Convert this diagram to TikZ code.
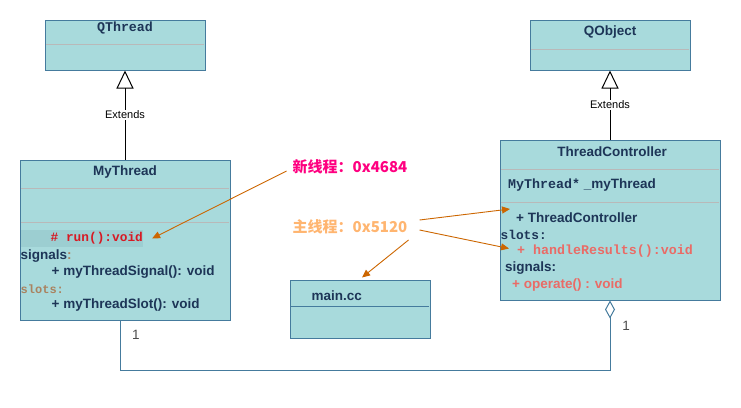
\documentclass[tikz,border=0pt]{standalone}
\usepackage{fontspec}
\setmainfont{Liberation Sans}
\newfontfamily\monofnt{Liberation Mono}
\newfontfamily\cjk{Noto Sans CJK SC}
\usetikzlibrary{arrows.meta}
\definecolor{boxfill}{RGB}{168,218,220}
\definecolor{boxline}{RGB}{69,123,157}
\definecolor{txtblue}{RGB}{29,53,87}
\definecolor{divgray}{RGB}{185,185,185}
\definecolor{rowhl}{RGB}{156,206,209}
\definecolor{runred}{RGB}{215,25,35}
\definecolor{salmon}{RGB}{234,107,102}
\definecolor{slotbrown}{RGB}{170,130,95}
\definecolor{notearrow}{RGB}{204,102,0}
\definecolor{newthread}{RGB}{255,0,128}
\definecolor{mainthread}{RGB}{255,181,112}

\begin{document}
\begin{tikzpicture}[x=1pt,y=-1pt,
  umlbox/.style={draw=boxline,fill=boxfill,line width=1pt,inner sep=0pt},
  divline/.style={divgray,line width=1pt},
  member/.style={anchor=west,inner sep=0pt,text=txtblue,font=\fontsize{13.5}{15}\selectfont\bfseries},
  monomember/.style={anchor=west,inner sep=0pt,text=txtblue,font=\fontsize{12.8}{14}\monofnt\bfseries},
  extarrow/.style={-{Triangle[open,length=18pt,width=17pt]},line width=1pt,black},
  extlabel/.style={fill=white,inner sep=1pt,font=\fontsize{11}{13}\selectfont},
  notearr/.style={-{Triangle[length=8pt,width=7pt]},notearrow,line width=0.9pt},
  mult/.style={inner sep=0pt,text=black!70,font=\fontsize{13.5}{15}\selectfont}]
\useasboundingbox (0,0) rectangle (741,407);
%.............................
\node[umlbox,minimum width=160pt,minimum height=50pt] (qthread) at (125,45) {};
\node[monomember,anchor=center,font=\fontsize{13.3}{15}\monofnt\bfseries] (qthreadname) at (125,28) {QThread};
\draw[divline] (46,44) -- (204,44);
%.............................
\node[umlbox,minimum width=160pt,minimum height=50pt] (qobject) at (610,45) {};
\node[member,anchor=center] (qobjectname) at (610,32.5) {QObject};
\draw[divline] (531,49) -- (689,49);
%.............................
\node[umlbox,minimum width=210pt,minimum height=160pt] (mythread) at (125,240) {};
\draw[divline] (21,188) -- (229,188);
\draw[divline] (21,222) -- (229,222);
\fill[rowhl] (21,230) rectangle (143,247);
\node[member,anchor=center] (mythreadname) at (125,172) {MyThread};
\node[monomember,text=runred] (run) at (50.5,238.5) {\# run():void};
\node[member] (sig1) at (20.5,256) {signals\textcolor{slotbrown}{:}};
\node[member] (sig1fn) at (51.5,272) {+ myThreadSignal(): void};
\node[monomember,text=slotbrown,font=\fontsize{12}{14}\monofnt\bfseries] (slot1) at (20.5,289) {slots:};
\node[member] (slot1fn) at (51.5,305) {+ myThreadSlot(): void};
%.............................
\node[umlbox,minimum width=220pt,minimum height=160pt] (tctrl) at (610,220) {};
\draw[divline] (501,169) -- (719,169);
\draw[divline] (501,202) -- (719,202);
\node[member,anchor=center] (tctrlname) at (612,152) {ThreadController};
\node[member] (field) at (508,185.5) {{\fontsize{13.3}{15}\monofnt MyThread*} \_myThread};
\node[member] (tcctor) at (516,218) {+ ThreadController};
\node[monomember] (slot2) at (500.5,235) {slots:};
\node[monomember,text=salmon,font=\fontsize{13.3}{15}\monofnt\bfseries] (handle) at (517,251.5) {+ handleResults():void};
\node[member] (sig2) at (505,268) {signals:};
\node[member,text=salmon] (operate) at (512,285) {+ operate() : void};
%.............................
\node[umlbox,minimum width=140pt,minimum height=58pt] (maincc) at (360,309) {};
\draw[divline,boxline] (291,306) -- (429,306);
\node[member] (mainccname) at (311.5,296) {main.cc};
%.............................
\draw[extarrow] (mythread.north) -- node[extlabel] {Extends} (qthread.south);
\draw[extarrow] (tctrl.north) -- node[extlabel] {Extends} (qobject.south);
\draw[{Diamond[open,length=18pt,width=10pt]}-,boxline,line width=1pt]
  (tctrl.south) -- ++(0,70) -| ([xshift=-5pt]mythread.south);
\node[mult] (m1) at (136,335) {1};
\node[mult] (m2) at (626,326) {1};
%.............................
\node[anchor=west,inner sep=0pt,text=newthread,font=\fontsize{15}{18}\cjk\bfseries] (newth) at (292.5,167) {新线程：0x4684};
\node[anchor=west,inner sep=0pt,text=mainthread,font=\fontsize{15}{18}\cjk\bfseries] (mainth) at (292.5,227) {主线程：0x5120};
\draw[notearr] ([shift={(-6,4)}]newth.west) -- ([xshift=9pt]run.east);
\draw[notearr] ([shift={(12,-7)}]mainth.east) -- ([shift={(-6,-9)}]tcctor.west);
\draw[notearr] ([shift={(12,3)}]mainth.east) -- ([shift={(-8,-3)}]handle.west);
\draw[notearr] ([shift={(1,13)}]mainth.east) -- ([shift={(2,-2)}]maincc.north);
\end{tikzpicture}
\end{document}
